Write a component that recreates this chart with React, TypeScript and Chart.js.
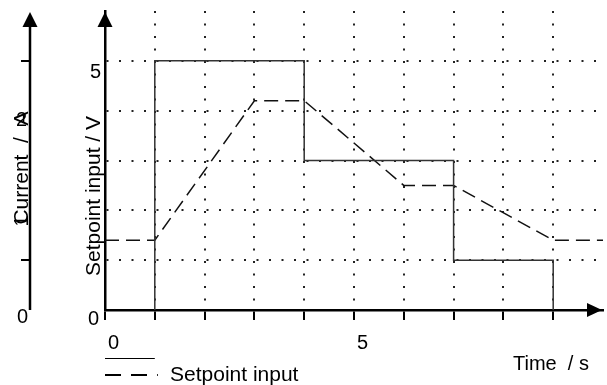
import React, { useEffect, useRef } from 'react';
import { Chart, registerables } from 'chart.js';

Chart.register(...registerables);

// Current (solid step line)
const currentTimes = [1, 1, 4, 4, 7, 7, 9, 9];
const currentValues = [0, 5, 5, 3, 3, 1, 1, 0];

// Setpoint input (dashed line)
const setpointTimes = [0, 1, 3, 4, 6, 7, 9, 10];
const setpointValues = [1.4, 1.4, 4.2, 4.2, 2.5, 2.5, 1.4, 1.4];

// Axis text
const timeTickLabels = ['0', '5'];
const timeTickValues = [0, 5];
const voltageTickLabels = ['0', '5'];
const currentAxisLabels = ['0', '1', '2'];
const currentAxisTickValues = [1, 5];

const xTitle = 'Time  / s';
const yTitle = 'Setpoint input / V';
const y2Title = 'Current  /  A';
const legendLabel = 'Setpoint input';

const FONT = '"Liberation Sans", Arial, sans-serif';

const overlay = {
  id: 'overlay',
  afterDraw(chart: any) {
    const { ctx, chartArea } = chart;
    const xs = chart.scales.x;
    const ys = chart.scales.y;
    const left = chartArea.left;
    const bottom = chartArea.bottom;
    const top = chartArea.top;
    const right = chartArea.right;
    ctx.save();
    ctx.fillStyle = '#000';
    ctx.strokeStyle = '#000';

    const arrowUp = (x: number, tipY: number) => {
      ctx.beginPath();
      ctx.moveTo(x, tipY);
      ctx.lineTo(x - 7.5, tipY + 15);
      ctx.lineTo(x + 7.5, tipY + 15);
      ctx.closePath();
      ctx.fill();
    };
    // main y arrow
    arrowUp(left, top + 1);
    // x arrow
    ctx.beginPath();
    ctx.moveTo(right - 1, bottom);
    ctx.lineTo(right - 16, bottom - 7);
    ctx.lineTo(right - 16, bottom + 7);
    ctx.closePath();
    ctx.fill();

    // left "Current" axis
    const ax = 30;
    ctx.lineWidth = 2.5;
    ctx.beginPath();
    ctx.moveTo(ax, bottom);
    ctx.lineTo(ax, top + 14);
    ctx.stroke();
    arrowUp(ax, top + 1);
    ctx.lineWidth = 2;
    currentAxisTickValues.forEach((v) => {
      const py = Math.round(ys.getPixelForValue(v));
      ctx.beginPath();
      ctx.moveTo(ax - 9, py);
      ctx.lineTo(ax, py);
      ctx.stroke();
    });

    ctx.font = `20px ${FONT}`;
    ctx.textBaseline = 'alphabetic';
    // main y labels
    ctx.textAlign = 'left';
    ctx.fillText(voltageTickLabels[0], left - 17, bottom + 15);
    ctx.fillText(voltageTickLabels[1], left - 15, ys.getPixelForValue(5) + 17);
    // current axis labels
    ctx.fillText(currentAxisLabels[0], 17, bottom + 13);
    ctx.fillText(currentAxisLabels[2], 16, 126);
    ctx.save();
    ctx.translate(28, 221);
    ctx.rotate(-Math.PI / 2);
    ctx.textAlign = 'center';
    ctx.fillText(currentAxisLabels[1], 0, 0);
    ctx.restore();

    // x labels
    ctx.textAlign = 'center';
    timeTickLabels.forEach((t, i) => {
      const px = xs.getPixelForValue(timeTickValues[i]) + 8.5;
      ctx.fillText(t, px, bottom + 39);
    });
    ctx.lineWidth = 1;
    ctx.beginPath();
    ctx.moveTo(xs.getPixelForValue(0), bottom + 48.5);
    ctx.lineTo(xs.getPixelForValue(1), bottom + 48.5);
    ctx.stroke();

    ctx.textAlign = 'left';
    ctx.fillText(xTitle, 513, bottom + 60);

    // legend
    ctx.lineWidth = 2;
    ctx.setLineDash([16, 10]);
    ctx.beginPath();
    ctx.moveTo(xs.getPixelForValue(0), bottom + 65);
    ctx.lineTo(xs.getPixelForValue(1) + 3, bottom + 65);
    ctx.stroke();
    ctx.setLineDash([]);
    ctx.font = `21px ${FONT}`;
    ctx.fillText(legendLabel, 170, bottom + 71);

    // rotated titles
    ctx.save();
    ctx.translate(100, 196);
    ctx.rotate(-Math.PI / 2);
    ctx.textAlign = 'center';
    ctx.fillText(yTitle, 0, 0);
    ctx.restore();

    ctx.save();
    ctx.translate(28, 168);
    ctx.rotate(-Math.PI / 2);
    ctx.textAlign = 'center';
    ctx.fillText(y2Title, 0, 0);
    ctx.restore();

    ctx.restore();
  },
};

export default function App() {
  const ref = useRef<HTMLCanvasElement | null>(null);

  useEffect(() => {
    if (!ref.current) return;
    const transparent = 'rgba(0,0,0,0)';
    const chart = new Chart(ref.current, {
      type: 'line',
      data: {
        datasets: [
          {
            label: 'Current',
            data: currentTimes.map((t, i) => ({ x: t, y: currentValues[i] })),
            borderColor: '#333',
            borderWidth: 1.5,
            pointRadius: 0,
            tension: 0,
            fill: false,
          },
          {
            label: legendLabel,
            data: setpointTimes.map((t, i) => ({ x: t, y: setpointValues[i] })),
            borderColor: '#111',
            borderWidth: 1.5,
            borderDash: [14, 7],
            pointRadius: 0,
            tension: 0,
            fill: false,
          },
        ],
      },
      options: {
        animation: false,
        responsive: false,
        layout: { padding: { left: 0, right: 4, top: 11, bottom: 0 } },
        plugins: { legend: { display: false }, tooltip: { enabled: false } },
        scales: {
          x: {
            type: 'linear',
            min: 0,
            max: 10,
            afterFit: (s: any) => {
              s.height = 75;
            },
            ticks: { stepSize: 1, display: false },
            grid: {
              color: (c: any) =>
                c.tick && c.tick.value > 0 && c.tick.value < 10 ? '#222' : transparent,
              lineWidth: 2,
              drawTicks: true,
              tickLength: 10,
              tickWidth: 2,
              tickColor: (c: any) => (c.tick && c.tick.value < 10 ? '#000' : transparent),
            },
            border: { display: true, color: '#000', width: 2.5, dash: [2, 10.5] },
          },
          y: {
            type: 'linear',
            min: 0,
            max: 6,
            afterFit: (s: any) => {
              s.width = 105;
            },
            ticks: { stepSize: 1, display: false },
            grid: {
              color: (c: any) =>
                c.tick && c.tick.value > 0 && c.tick.value < 6 ? '#222' : transparent,
              lineWidth: 2,
              drawTicks: false,
            },
            border: { display: true, color: '#000', width: 2.5, dash: [2, 10.5] },
          },
        },
      },
      plugins: [overlay],
    } as any);
    return () => chart.destroy();
  }, []);

  return (
    <div style={{ position: 'fixed', left: 0, top: 0, width: 607, height: 385, background: '#fff' }}>
      <canvas ref={ref} width={607} height={385} style={{ display: 'block' }} />
    </div>
  );
}
